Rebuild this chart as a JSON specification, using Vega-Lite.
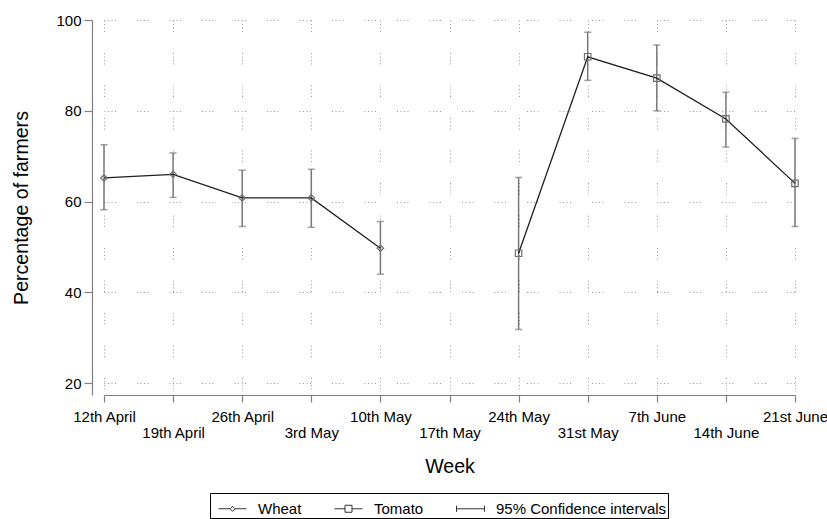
{
  "$schema": "https://vega.github.io/schema/vega-lite/v6.json",
  "width": 691,
  "height": 375,
  "autosize": "none",
  "padding": {"left": 104, "top": 20, "right": 32, "bottom": 124},
  "background": "white",
  "config": {"font": "Liberation Sans", "view": {"stroke": null}},
  "data": {
    "values": [
      {"week": "12th April", "crop": "Wheat", "pct": 65.2, "lo": 58.2, "hi": 72.5},
      {"week": "19th April", "crop": "Wheat", "pct": 66.0, "lo": 60.9, "hi": 70.7},
      {"week": "26th April", "crop": "Wheat", "pct": 60.8, "lo": 54.5, "hi": 66.9},
      {"week": "3rd May", "crop": "Wheat", "pct": 60.8, "lo": 54.3, "hi": 67.1},
      {"week": "10th May", "crop": "Wheat", "pct": 49.7, "lo": 44.0, "hi": 55.6},
      {"week": "24th May", "crop": "Tomato", "pct": 48.6, "lo": 31.8, "hi": 65.3},
      {"week": "31st May", "crop": "Tomato", "pct": 91.9, "lo": 86.7, "hi": 97.3},
      {"week": "7th June", "crop": "Tomato", "pct": 87.2, "lo": 80.0, "hi": 94.5},
      {"week": "14th June", "crop": "Tomato", "pct": 78.2, "lo": 72.0, "hi": 84.1},
      {"week": "21st June", "crop": "Tomato", "pct": 64.0, "lo": 54.5, "hi": 73.9}
    ]
  },
  "layer": [
    {
      "mark": {"type": "rule", "color": "#777777", "strokeWidth": 1.5},
      "encoding": {
        "x": {
          "field": "week", "type": "ordinal", "sort": null,
          "scale": {"type": "point", "padding": 0, "domain": ["12th April", "19th April", "26th April", "3rd May", "10th May", "17th May", "24th May", "31st May", "7th June", "14th June", "21st June"]},
          "axis": {
            "title": "Week", "titleFontSize": 19.6, "titleFontWeight": "normal", "titleColor": "#000000", "titlePadding": 17,
            "labelFontSize": 15, "labelColor": "#000000", "labelAngle": 0, "labelOverlap": false, "labelFlush": false,
            "labelPadding": {"condition": {"test": "indexof(['19th April','3rd May','17th May','31st May','14th June'], datum.value) >= 0", "value": 23}, "value": 7},
            "domainColor": "#808080", "domainWidth": 1.2, "tickColor": "#808080", "tickWidth": 1.2, "tickSize": 7,
            "grid": true, "gridColor": "#9a9a9a", "gridWidth": 1, "gridDash": [1, 2.5, 1, 2.5, 1, 2.5, 1, 21]
          }
        },
        "y": {
          "field": "lo", "type": "quantitative",
          "scale": {"domain": [17.36, 100], "nice": false, "zero": false},
          "axis": {
            "title": "Percentage of farmers", "titleFontSize": 19.6, "titleFontWeight": "normal", "titleColor": "#000000", "titlePadding": 24,
            "values": [20, 40, 60, 80, 100], "offset": 12,
            "labelFontSize": 15, "labelColor": "#000000", "labelPadding": 3,
            "domainColor": "#808080", "domainWidth": 1.2, "tickColor": "#808080", "tickWidth": 1.2, "tickSize": 8,
            "grid": true, "gridColor": "#9a9a9a", "gridWidth": 1, "gridDash": [1, 2.5, 1, 2.5, 1, 2.5, 1, 21]
          }
        },
        "y2": {"field": "hi"}
      }
    },
    {
      "mark": {"type": "tick", "color": "#777777", "thickness": 1.5, "size": 7},
      "encoding": {
        "x": {"field": "week", "type": "ordinal", "sort": null},
        "y": {"field": "lo", "type": "quantitative", "title": "Percentage of farmers"}
      }
    },
    {
      "mark": {"type": "tick", "color": "#777777", "thickness": 1.5, "size": 7},
      "encoding": {
        "x": {"field": "week", "type": "ordinal", "sort": null},
        "y": {"field": "hi", "type": "quantitative", "title": "Percentage of farmers"}
      }
    },
    {
      "mark": {"type": "line", "color": "#1e1e1e", "strokeWidth": 1.3},
      "encoding": {
        "x": {"field": "week", "type": "ordinal", "sort": null},
        "y": {"field": "pct", "type": "quantitative", "title": "Percentage of farmers"},
        "detail": {"field": "crop"}
      }
    },
    {
      "mark": {"type": "point", "filled": false, "stroke": "#6e6e6e", "strokeWidth": 1.2, "opacity": 1, "size": 42},
      "encoding": {
        "x": {"field": "week", "type": "ordinal", "sort": null},
        "y": {"field": "pct", "type": "quantitative", "title": "Percentage of farmers"},
        "shape": {"condition": {"test": "datum.crop === 'Wheat'", "value": "diamond"}, "value": "square"}
      }
    },
    {
      "mark": {"type": "point", "filled": false, "stroke": "#333333", "strokeWidth": 1, "opacity": 1, "size": 0},
      "encoding": {
        "x": {"field": "week", "type": "ordinal", "sort": null},
        "y": {"field": "pct", "type": "quantitative", "title": "Percentage of farmers"},
        "shape": {
          "field": "crop", "type": "nominal",
          "scale": {
            "domain": ["Wheat", "Tomato", "95% Confidence intervals"],
            "range": ["M-1,0H-0.18M0.18,0H1M-0.18,0L0,-0.18L0.18,0L0,0.18Z", "M-1,0H-0.25M0.25,0H1M-0.25,-0.25H0.25V0.25H-0.25Z", "M-1,-0.22V0.22M-1,0H1M1,-0.22V0.22"]
          },
          "legend": {
            "orient": "none", "legendX": 106, "legendY": 473, "direction": "horizontal", "columns": 3,
            "title": null, "strokeColor": "#000000", "fillColor": "#ffffff", "padding": 1,
            "labelFontSize": 15, "labelColor": "#000000", "labelLimit": 400, "columnPadding": 25,
            "labelOffset": 11, "symbolOffset": 7, "symbolSize": 784,
            "labelExpr": "datum.label === '95% Confidence intervals' ? datum.label + '\u00a0\u00a0\u00a0\u00a0\u00a0' : datum.label",
            "symbolStrokeColor": "#333333", "symbolFillColor": "transparent", "symbolStrokeWidth": 1
          }
        }
      }
    }
  ]
}
